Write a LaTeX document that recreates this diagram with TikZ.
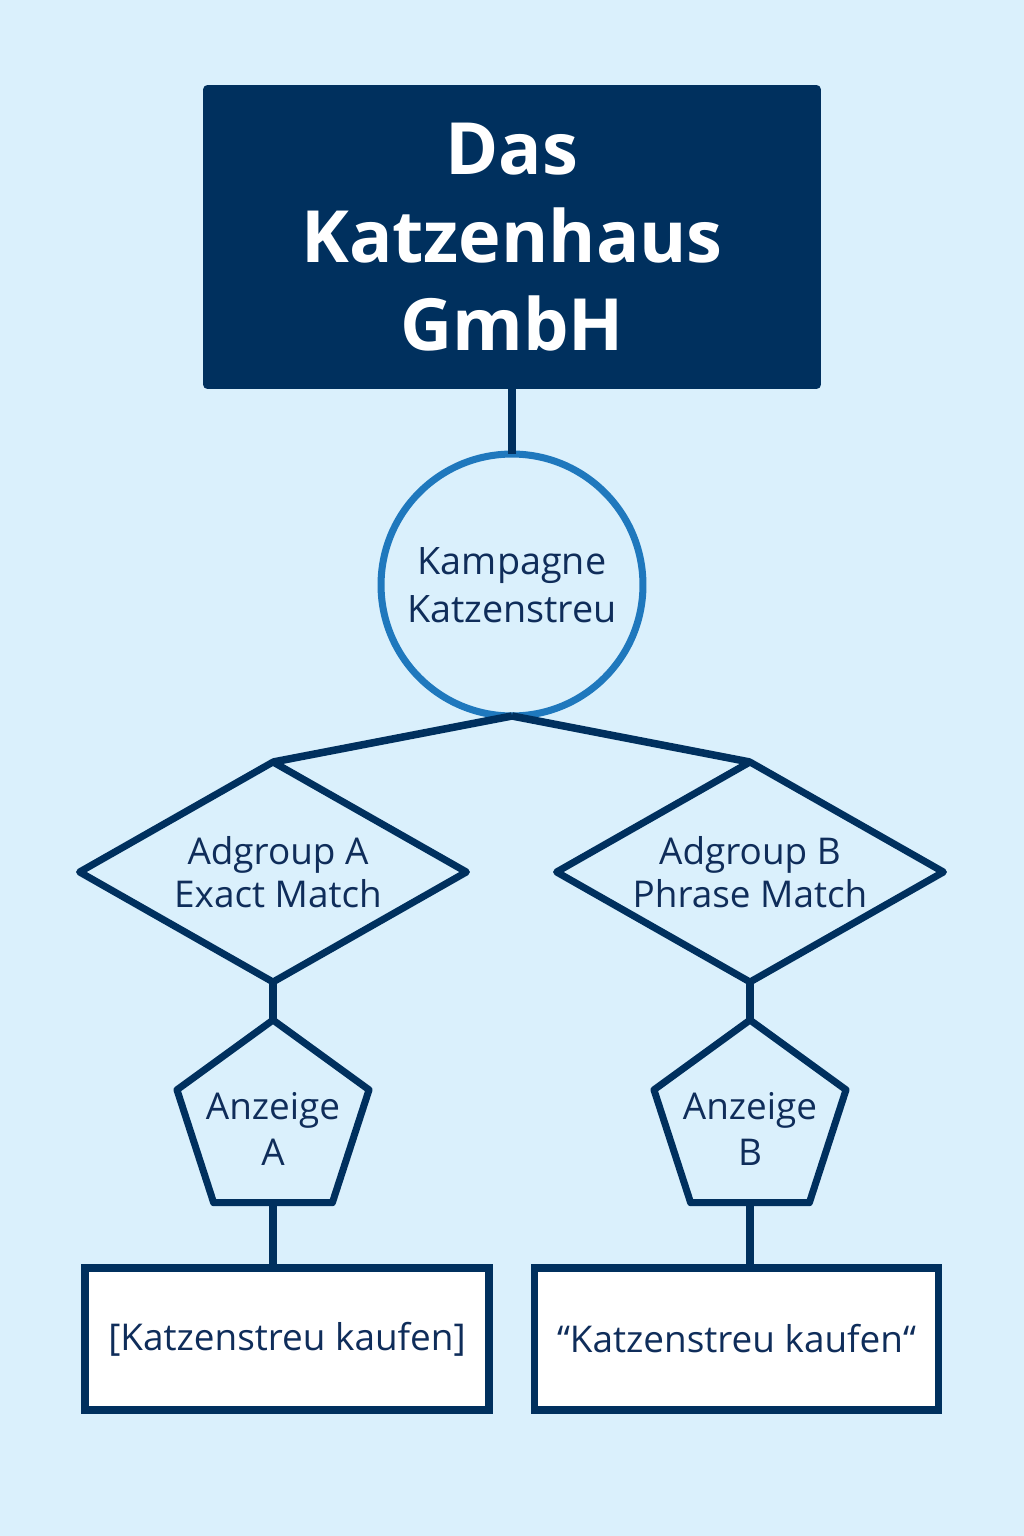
\documentclass[tikz,border=0pt]{standalone}
\usepackage{fontspec}
\setmainfont{Open Sans}
\usepackage{tikz}
\usetikzlibrary{shapes.geometric}
\definecolor{bg}{HTML}{DAF0FC}
\definecolor{navy}{HTML}{00305E}
\definecolor{ink}{HTML}{0F2D5A}
\definecolor{ring}{HTML}{1F78BD}
\tikzset{
  conn/.style={draw=navy, line width=4.3pt},
  titlebox/.style={fill=navy, rounded corners=2.5pt, minimum width=12.36cm, minimum height=6.08cm,
    text=white, align=center, inner sep=0pt, outer sep=0pt,
    font=\fontsize{41}{50}\selectfont\bfseries},
  ringnode/.style={circle, draw=ring, line width=4pt, minimum size=5.24cm, inner sep=0pt, outer sep=0pt,
    text=ink, align=center, font=\fontsize{21.5}{27}\selectfont},
  inlabel/.style={text=ink, align=center, inner sep=0pt, font=\fontsize{21}{24.5}\selectfont},
  groupnode/.style={diamond, draw=navy, line width=4pt, line join=round, minimum width=7.74cm,
    minimum height=4.4cm, inner sep=0pt, outer sep=0pt},
  adnode/.style={regular polygon, regular polygon sides=5, draw=navy, line width=4pt, line join=round,
    minimum size=4.04cm, inner sep=0pt, outer sep=0pt},
  keybox/.style={rectangle, draw=navy, fill=white, line width=4.5pt, minimum width=8.08cm,
    minimum height=2.84cm, inner sep=0pt, outer sep=0pt, text=ink,
    font=\fontsize{21}{26}\selectfont}
}
\begin{document}
\begin{tikzpicture}[x=0.02cm,y=-0.02cm]
  \useasboundingbox (0,0) rectangle (1024,1536);
  \fill[bg] (0,0) rectangle (1024,1536);

  % company and campaign
  \node[titlebox] (firm) at (512,237) {Das\\Katzenhaus\\GmbH};
  \node[ringnode] (camp) at (512,585) {Kampagne\\Katzenstreu};

  % ad groups
  \node[groupnode, label={[inlabel, xshift=0.1cm]center:Adgroup A\\Exact Match}] (grpA) at (273,872) {};
  \node[groupnode, label={[inlabel]center:Adgroup B\\Phrase Match}] (grpB) at (750,872) {};

  % ads
  \node[adnode, label={[inlabel, yshift=-0.16cm, font=\fontsize{21}{26}\selectfont]center:Anzeige\\A}] (adA) at (273,1121) {};
  \node[adnode, label={[inlabel, yshift=-0.16cm, font=\fontsize{21}{26}\selectfont]center:Anzeige\\B}] (adB) at (750,1121) {};

  % keywords
  \node[keybox] (kwA) at (287,1339) {[Katzenstreu kaufen]};
  \node[keybox] (kwB) at (736.5,1339) {“Katzenstreu kaufen“};

  \draw[conn] (firm.south) -- (camp.north);
  \draw[conn] (camp.south) -- (grpA.north);
  \draw[conn] (camp.south) -- (grpB.north);
  \draw[conn] (grpA.south) -- (adA.north);
  \draw[conn] (grpB.south) -- (adB.north);
  \draw[conn] (adA.south) -- (adA.south |- kwA.north);
  \draw[conn] (adB.south) -- (adB.south |- kwB.north);
\end{tikzpicture}
\end{document}
